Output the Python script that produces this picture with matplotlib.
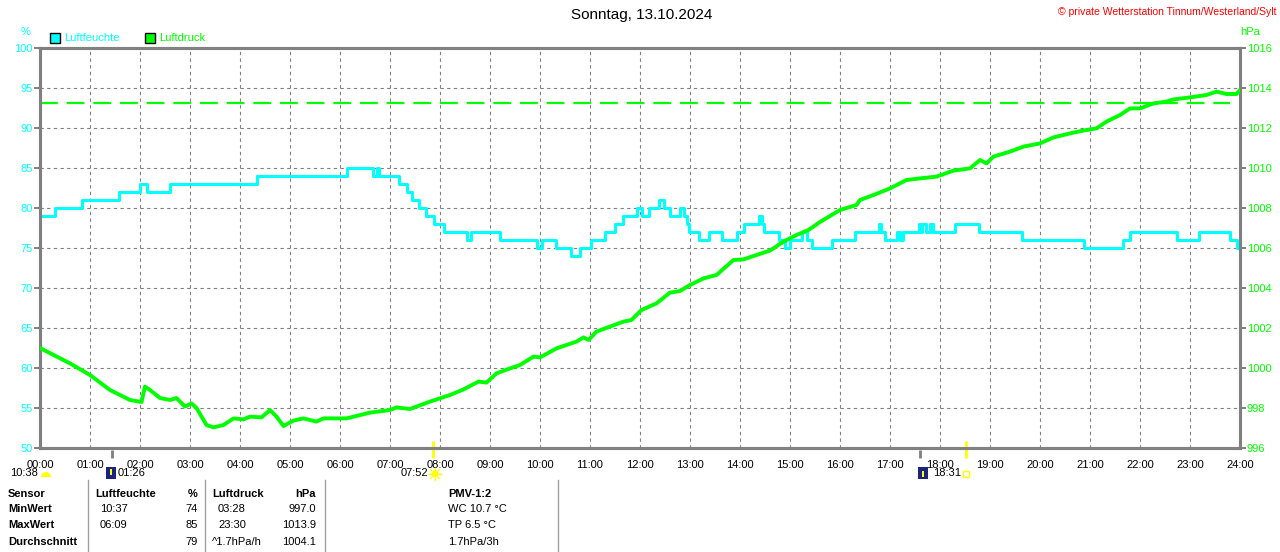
import matplotlib
matplotlib.use("Agg")
import matplotlib.pyplot as plt
from matplotlib import patches
from matplotlib.transforms import IdentityTransform

plt.rcParams['font.family'] = ['Liberation Sans', 'DejaVu Sans']

# ---- data ----
hours = list(range(0, 25))
hour_labels = ["%02d:00" % h for h in hours]

# humidity (%), step changes: time (h) -> value
hum_t = [0, 0.3, 0.83, 1.57, 2.0, 2.13, 2.6, 4.33, 6.13, 6.65, 6.73, 6.77, 7.17, 7.33,
         7.43, 7.58, 7.72, 7.87, 8.07, 8.54, 8.62, 9.2, 9.93, 10.03, 10.32, 10.61, 10.8,
         11.01, 11.3, 11.5, 11.66, 11.93, 12.03, 12.17, 12.38, 12.48, 12.6, 12.8, 12.87,
         12.93, 12.98, 13.17, 13.37, 13.63, 13.93, 14.07, 14.37, 14.43, 14.47, 14.77, 14.9,
         15.0, 15.23, 15.33, 15.43, 15.83, 16.3, 16.77, 16.82, 16.9, 17.13, 17.2, 17.25,
         17.57, 17.61, 17.65, 17.72, 17.81, 17.85, 18.3, 18.77, 19.63, 20.87, 21.65, 21.8,
         22.73, 23.17, 23.8, 23.93, 24.0]
hum_v = [79, 80, 81, 82, 83, 82, 83, 84, 85, 84, 85, 84, 83, 82,
         81, 80, 79, 78, 77, 76, 77, 76, 75, 76, 75, 74, 75,
         76, 77, 78, 79, 80, 79, 80, 81, 80, 79, 80, 79,
         78, 77, 76, 77, 76, 77, 78, 79, 78, 77, 76, 75,
         76, 77, 76, 75, 76, 77, 78, 77, 76, 77, 76, 77,
         78, 77, 78, 77, 78, 77, 78, 77, 76, 75, 76, 77,
         76, 77, 76, 75, 75]

# pressure (hPa)
pres_t = [0, 0.6, 1.0, 1.4, 1.8, 2.03, 2.1, 2.2, 2.4, 2.6, 2.73, 2.9, 3.03, 3.13, 3.33,
          3.47, 3.67, 3.87, 4.07, 4.2, 4.43, 4.6, 4.73, 4.87, 5.07, 5.27, 5.53, 5.67, 6.13,
          6.6, 7.0, 7.13, 7.4, 7.8, 8.2, 8.47, 8.77, 8.93, 9.13, 9.4, 9.6, 9.87, 10.0, 10.33,
          10.53, 10.73, 10.87, 10.97, 11.13, 11.4, 11.67, 11.83, 12.03, 12.33, 12.6, 12.8,
          13.0, 13.27, 13.53, 13.87, 14.07, 14.33, 14.6, 14.87, 15.13, 15.37, 15.6, 16.0,
          16.33, 16.4, 16.67, 17.0, 17.33, 17.6, 17.93, 18.27, 18.6, 18.8, 18.93, 19.07,
          19.4, 19.67, 20.0, 20.27, 20.67, 20.93, 21.13, 21.33, 21.6, 21.8, 22.0, 22.27,
          22.53, 22.67, 23.0, 23.33, 23.53, 23.73, 23.93, 24.0]
pres_v = [1001.0, 1000.23, 999.65, 998.9, 998.4, 998.3, 999.07, 998.9, 998.5, 998.4, 998.5,
          998.07, 998.23, 998.0, 997.15, 997.03, 997.15, 997.48, 997.43, 997.57, 997.53,
          997.9, 997.57, 997.1, 997.37, 997.48, 997.32, 997.48, 997.48, 997.77, 997.9,
          998.03, 997.95, 998.32, 998.65, 998.93, 999.32, 999.27, 999.73, 999.98, 1000.15,
          1000.57, 1000.53, 1000.98, 1001.15, 1001.32, 1001.53, 1001.4, 1001.82, 1002.07,
          1002.32, 1002.4, 1002.9, 1003.23, 1003.77, 1003.85, 1004.15, 1004.48, 1004.65,
          1005.4, 1005.43, 1005.65, 1005.87, 1006.32, 1006.65, 1006.9, 1007.3, 1007.9,
          1008.15, 1008.4, 1008.65, 1008.98, 1009.4, 1009.48, 1009.57, 1009.87, 1009.98,
          1010.4, 1010.23, 1010.57, 1010.82, 1011.07, 1011.23, 1011.53, 1011.77, 1011.9,
          1011.98, 1012.32, 1012.65, 1012.98, 1012.98, 1013.23, 1013.32, 1013.43, 1013.53,
          1013.65, 1013.82, 1013.7, 1013.7, 1013.9]

ref_pressure = 1013.25
ref_end = 23.8

# rise/set markers (hours)
moonrise_h = 1 + 26 / 60
sunrise_h = 7 + 52 / 60
moonset_h = 17 + 36 / 60
sunset_h = 18 + 31 / 60

title = "Sonntag, 13.10.2024"
copyright_txt = "\u00a9 private Wetterstation Tinnum/Westerland/Sylt"

row_names = ["Sensor", "MinWert", "MaxWert", "Durchschnitt"]
hum_times = ["Luftfeuchte", "10:37", "06:09", ""]
hum_vals = ["%", "74", "85", "79"]
pres_times = ["Luftdruck", "03:28", "23:30", "^1.7hPa/h"]
pres_vals = ["hPa", "997.0", "1013.9", "1004.1"]
pmv = ["PMV-1:2", "WC 10.7 \u00b0C", "TP 6.5 \u00b0C", "1.7hPa/3h"]

CYAN = "#00ffff"
GREEN = "#00ff00"
GRAY = "#808080"
YELLOW = "#ffff00"
W, H = 1280, 552

fig = plt.figure(figsize=(W / 100, H / 100), dpi=100)
ax = fig.add_axes([40 / W, 104 / H, 1200 / W, 400 / H])
ax2 = ax.twinx()


def fx(x):
    return x / W


def fy(y):
    return 1 - y / H


# humidity
ax.plot(hum_t, hum_v, drawstyle='steps-post', color=CYAN, lw=2.2, zorder=3)
ax.set_xlim(0, 24)
ax.set_ylim(50, 100)
ax.set_xticks(hours)
ax.set_xticklabels(hour_labels, fontsize=8)
ax.set_yticks(range(50, 101, 5))
ax.tick_params(axis='x', length=0, pad=9)
ax.tick_params(axis='y', colors=GRAY, labelcolor=CYAN, labelsize=8, length=4, width=1.4, pad=1)
ax.grid(True, color=GRAY, ls=(0, (3, 3)), lw=0.8)

# pressure
ax2.plot(pres_t, pres_v, color=GREEN, lw=2.8, zorder=4)
ax2.hlines(ref_pressure, 0, ref_end, colors=GREEN, lw=1.6, linestyles=(0, (8, 4)))
ax2.set_ylim(996, 1016)
ax2.set_yticks(range(996, 1017, 2))
ax2.tick_params(axis='y', colors=GRAY, labelcolor=GREEN, labelsize=8, length=4, width=1.4, pad=1)

for a in (ax, ax2):
    for s in a.spines.values():
        s.set_color(GRAY)
        s.set_linewidth(2.2)

# special ticks below the axis
for h, c, top in [(moonrise_h, GRAY, 49.75), (moonset_h, GRAY, 49.75),
                  (sunrise_h, YELLOW, 50.9), (sunset_h, YELLOW, 50.9)]:
    ax.plot([h, h], [top, 48.75], color=c, lw=2, clip_on=False,
            solid_capstyle='butt', zorder=5)

# header texts
fig.text(fx(642), fy(15), title, ha='center', va='center', fontsize=11)
fig.text(fx(1276), fy(12), copyright_txt, ha='right', va='center', fontsize=7.5, color='red')
fig.text(fx(26), fy(32), "%", ha='center', va='center', fontsize=8, color=CYAN)
fig.text(fx(1250), fy(32), "hPa", ha='center', va='center', fontsize=8, color=GREEN)

idt = IdentityTransform()
for x0, col, lab in [(50, CYAN, "Luftfeuchte"), (145, GREEN, "Luftdruck")]:
    fig.add_artist(patches.Rectangle((x0, H - 43), 10, 10, facecolor=col, edgecolor='black',
                                     lw=1, transform=idt))
    fig.text(fx(x0 + 14), fy(38), lab, ha='left', va='center', fontsize=8, color=col)

# rise / set labels
fig.text(fx(10), fy(473), "10:38", ha='left', va='center', fontsize=8)
fig.add_artist(patches.Wedge((46, H - 477), 5, 0, 180, facecolor=YELLOW, transform=idt))
fig.add_artist(patches.Rectangle((106, H - 479), 10, 12, facecolor='#1a237e', transform=idt))
fig.add_artist(patches.Rectangle((110, H - 475), 2, 6, facecolor=YELLOW, transform=idt))
fig.text(fx(118), fy(473), "01:26", ha='left', va='center', fontsize=8)
fig.text(fx(428), fy(473), "07:52", ha='right', va='center', fontsize=8)
fig.add_artist(patches.Circle((435, H - 474), 3.5, facecolor=YELLOW, transform=idt))
for dx, dy in [(6, 0), (-6, 0), (0, 6), (0, -6), (4.3, 4.3), (-4.3, 4.3), (4.3, -4.3), (-4.3, -4.3)]:
    fig.add_artist(plt.Line2D([435 + dx * 0.7, 435 + dx], [H - 474 + dy * 0.7, H - 474 + dy],
                              color=YELLOW, lw=1, transform=idt))
fig.add_artist(patches.Rectangle((918, H - 479), 10, 12, facecolor='#1a237e', transform=idt))
fig.add_artist(patches.Rectangle((922, H - 477), 2, 6, facecolor=YELLOW, transform=idt))
fig.text(fx(933), fy(473), "18:31", ha='left', va='center', fontsize=8)
fig.add_artist(patches.Rectangle((963, H - 477), 6, 6, facecolor='none', edgecolor=YELLOW,
                                 lw=1, transform=idt))

# table
for xs in (88, 205, 325, 558):
    fig.add_artist(plt.Line2D([fx(xs), fx(xs)], [fy(480), fy(552)], color='#a0a0a0', lw=1))

row_y = [494, 509.5, 525.5, 542]
for i, y in enumerate(row_y):
    hdr = 'bold' if i == 0 else 'normal'
    fig.text(fx(8), fy(y), row_names[i], ha='left', va='center', fontsize=8, weight='bold')
    fig.text(fx(95 if i == 0 else 100), fy(y), hum_times[i], ha='left', va='center',
             fontsize=8, weight=hdr)
    fig.text(fx(198), fy(y), hum_vals[i], ha='right', va='center', fontsize=8, weight=hdr)
    fig.text(fx(212 if i in (0, 3) else 218), fy(y), pres_times[i], ha='left', va='center',
             fontsize=8, weight=hdr)
    fig.text(fx(316), fy(y), pres_vals[i], ha='right', va='center', fontsize=8, weight=hdr)
    fig.text(fx(448), fy(y), pmv[i], ha='left', va='center', fontsize=8, weight=hdr)

fig.savefig("out.png", dpi=100, facecolor='white')
